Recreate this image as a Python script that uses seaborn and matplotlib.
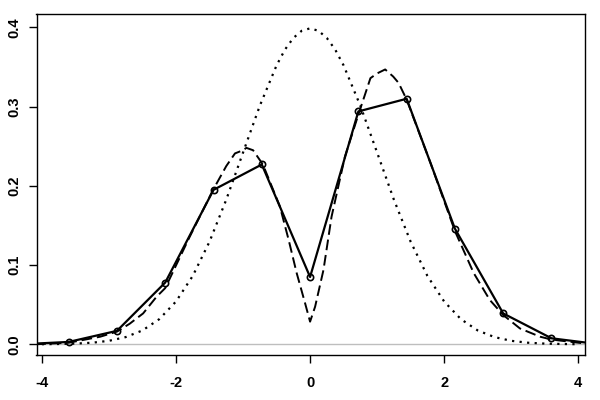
import numpy as np
import pandas as pd
import matplotlib
matplotlib.use("Agg")
import matplotlib.pyplot as plt
import seaborn as sns

# frequency polygon (solid line with open circles)
poly_x = [-4.32, -3.60, -2.88, -2.16, -1.44, -0.72, 0.00, 0.72, 1.44, 2.16, 2.88, 3.60, 4.32]
poly_y = [0.000, 0.003, 0.017, 0.078, 0.195, 0.227, 0.085, 0.294, 0.310, 0.146, 0.039, 0.0076, 0.000]

# dashed density curve
dens_x = [-4.10, -3.60, -3.13, -2.88, -2.69, -2.49, -2.29, -2.16, -1.80, -1.44, -1.25, -1.12,
          -1.00, -0.95, -0.85, -0.72, -0.67, -0.45, -0.32, -0.20, -0.075, 0.00,
          0.075, 0.20, 0.32, 0.52, 0.72, 0.90, 1.00, 1.12, 1.24, 1.32, 1.44,
          1.80, 2.16, 2.44, 2.68, 2.88, 3.13, 3.43, 3.60, 4.10]
dens_y = [0.000, 0.002, 0.0096, 0.016, 0.026, 0.039, 0.060, 0.071, 0.135, 0.196, 0.225, 0.241,
          0.245, 0.248, 0.245, 0.229, 0.220, 0.174, 0.132, 0.090, 0.052, 0.0286,
          0.0475, 0.094, 0.161, 0.237, 0.290, 0.336, 0.342, 0.347, 0.338, 0.330, 0.309,
          0.228, 0.143, 0.090, 0.056, 0.037, 0.020, 0.0096, 0.006, 0.001]

# dotted reference curve
ref_x = [-4.00, -3.75, -3.50, -3.25, -3.00, -2.75, -2.50, -2.25, -2.00, -1.75, -1.50, -1.25,
         -1.00, -0.75, -0.50, -0.375, -0.25, -0.125, 0.00, 0.125, 0.25, 0.375, 0.50, 0.75,
         1.00, 1.25, 1.50, 1.75, 2.00, 2.25, 2.50, 2.75, 3.00, 3.25, 3.50, 3.75, 4.00]
ref_y = [0.0001, 0.0004, 0.0009, 0.0020, 0.0044, 0.0091, 0.0175, 0.0317, 0.0540, 0.0863,
         0.1295, 0.1826, 0.2420, 0.3011, 0.3521, 0.3720, 0.3867, 0.3958, 0.3989, 0.3958,
         0.3867, 0.3720, 0.3521, 0.3011, 0.2420, 0.1826, 0.1295, 0.0863, 0.0540, 0.0317,
         0.0175, 0.0091, 0.0044, 0.0020, 0.0009, 0.0004, 0.0001]

x_ticks = [-4, -2, 0, 2, 4]
y_ticks = [0.0, 0.1, 0.2, 0.3, 0.4]
y_labels = ["0.0", "0.1", "0.2", "0.3", "0.4"]

sns.set_style("ticks")
plt.rcParams["font.family"] = ["Liberation Sans", "DejaVu Sans"]

fig = plt.figure(figsize=(6, 4), dpi=100)
ax = fig.add_axes([36.5 / 600, 45 / 400, 548.5 / 600, 341 / 400])

ax.axhline(0, color="#BEBEBE", lw=1.0, zorder=1)

sns.lineplot(x=poly_x, y=poly_y, ax=ax, sort=False, estimator=None,
             color="black", lw=1.6, marker="o", markersize=4.5,
             markerfacecolor="none", markeredgecolor="black", markeredgewidth=1.2)
sns.lineplot(x=dens_x, y=dens_y, ax=ax, sort=False, estimator=None,
             color="black", lw=1.4, linestyle=(0, (5.5, 2.5)))
sns.lineplot(x=ref_x, y=ref_y, ax=ax, sort=False, estimator=None,
             color="black", lw=1.6, linestyle=(0, (1, 2.4)))

ax.set_xlim(-4.08, 4.10)
ax.set_ylim(-0.0135, 0.417)
ax.set_xticks(x_ticks)
ax.set_xticklabels([str(t) for t in x_ticks])
ax.set_yticks(y_ticks)
ax.set_yticklabels(y_labels, rotation=90, va="center")

for s in ax.spines.values():
    s.set_visible(True)
    s.set_color("black")
    s.set_linewidth(1.0)

ax.tick_params(axis="both", direction="out", length=6, width=1.0, color="black",
               labelsize=10.5, labelcolor="black")
ax.tick_params(axis="x", pad=9)
ax.tick_params(axis="y", pad=5)
for lab in ax.get_xticklabels() + ax.get_yticklabels():
    lab.set_fontweight("bold")

ax.set_xlabel("")
ax.set_ylabel("")

fig.savefig("out.png", dpi=100, facecolor="white")
